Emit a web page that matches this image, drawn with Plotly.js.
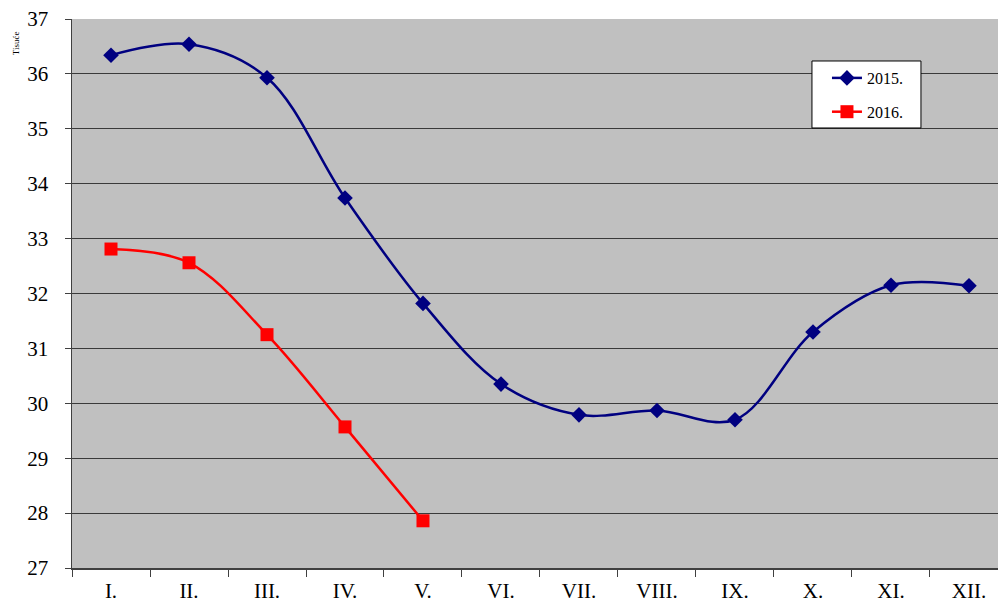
<!DOCTYPE html>
<html>
<head>
<meta charset="utf-8">
<script src="https://cdn.plot.ly/plotly-3.0.1.min.js"></script>
<style>html,body{margin:0;padding:0;background:#fff;}#chart{width:998px;height:603px;}</style>
</head>
<body>
<div id="chart"></div>
<script>
const months = ["I.", "II.", "III.", "IV.", "V.", "VI.", "VII.", "VIII.", "IX.", "X.", "XI.", "XII."];
const values2015 = [36.34, 36.54, 35.93, 33.74, 31.82, 30.35, 29.79, 29.87, 29.70, 31.30, 32.15, 32.14];
const months2016 = ["I.", "II.", "III.", "IV.", "V."];
const values2016 = [32.81, 32.56, 31.25, 29.57, 27.86];
const yTickVals = [27, 28, 29, 30, 31, 32, 33, 34, 35, 36, 37];
const yTitle = "Tisuće";

const FONT = "Liberation Serif, Times New Roman, serif";

const traces = [
  {
    x: months, y: values2015, name: "2015.", type: "scatter", mode: "lines+markers",
    line: {color: "#000080", width: 2.5, shape: "spline", smoothing: 1},
    marker: {symbol: "diamond", size: 12, color: "#000080"},
    legendgroup: "a"
  },
  {
    x: months2016, y: values2016, name: "2016.", type: "scatter", mode: "lines+markers",
    line: {color: "#ff0000", width: 2.5, shape: "spline", smoothing: 1},
    marker: {symbol: "square", size: 13, color: "#ff0000"},
    legendgroup: "b"
  }
];

const layout = {
  width: 998, height: 603,
  margin: {l: 72, r: 0, t: 19, b: 35},
  paper_bgcolor: "#ffffff",
  plot_bgcolor: "#c0c0c0",
  font: {family: FONT, color: "#000000", size: 21},
  showlegend: true,
  legend: {
    x: 0.7991, y: 0.9235, xanchor: "left", yanchor: "top",
    bgcolor: "rgba(0,0,0,0)", borderwidth: 0,
    font: {family: FONT, size: 16, color: "#000000"},
    traceorder: "grouped", tracegroupgap: 10,
    indentation: 15
  },
  shapes: [{
    type: "rect", xref: "paper", yref: "paper",
    x0: 0.7991, x1: 0.9168, y0: 0.8015, y1: 0.9235,
    fillcolor: "#ffffff", line: {color: "#000000", width: 1}, layer: "above"
  }],
  xaxis: {
    type: "category",
    categoryorder: "array", categoryarray: months,
    range: [-0.5, 11.372],
    tickson: "boundaries",
    ticks: "outside", ticklen: 7, tickcolor: "#404040", tickwidth: 1,
    showgrid: false,
    showline: true, linecolor: "#404040", linewidth: 1.5,
    tickfont: {family: FONT, size: 21, color: "#000000"},
    ticklabelstandoff: 3,
    zeroline: false, fixedrange: true
  },
  yaxis: {
    range: [27, 37],
    tickvals: yTickVals,
    ticktext: yTickVals.map(String),
    ticks: "outside", ticklen: 6, tickcolor: "#404040", tickwidth: 1,
    showgrid: true, gridcolor: "#3a3a3a", gridwidth: 1,
    showline: true, linecolor: "#404040", linewidth: 1.5,
    tickfont: {family: FONT, size: 21, color: "#000000"},
    ticklabelstandoff: 12,
    zeroline: false, fixedrange: true
  },
  annotations: [{
    text: yTitle, xref: "paper", yref: "paper",
    x: -0.0605, y: 0.956, xanchor: "center", yanchor: "middle",
    textangle: -90, showarrow: false,
    font: {family: FONT, size: 9, color: "#000000"}
  }]
};

Plotly.newPlot("chart", traces, layout, {displayModeBar: false, staticPlot: true});
</script>
</body>
</html>
